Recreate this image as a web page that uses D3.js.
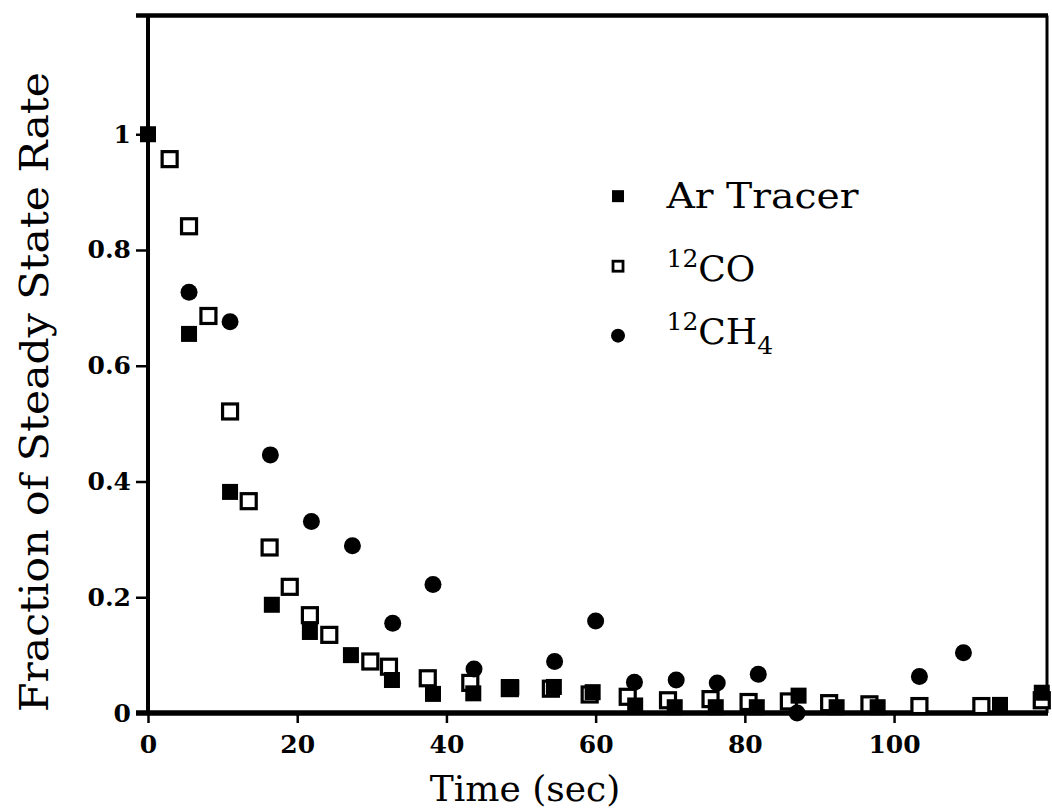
<!DOCTYPE html>
<html>
<head>
<meta charset="utf-8">
<script src="https://cdn.jsdelivr.net/npm/d3@7"></script>
<style>
  body { margin: 0; background: #fff; }
  svg { display: block; }
  text { font-family: "DejaVu Serif", "Liberation Serif", serif; fill: #000; }
</style>
</head>
<body>
<svg id="chart"></svg>
<script>
// data (time in sec, fraction of steady state rate)
var arTime = [0, 5.5, 11, 16.6, 21.7, 27.2, 32.7, 38.2, 43.6, 48.7, 54.4, 59.6, 65.3, 70.6, 76.1, 81.6, 87.2, 92.3, 97.8, 114.2, 119.8];
var arRate = [1.0, 0.655, 0.382, 0.187, 0.140, 0.100, 0.057, 0.033, 0.034, 0.044, 0.045, 0.036, 0.013, 0.010, 0.010, 0.010, 0.030, 0.010, 0.010, 0.014, 0.035];

var coTime = [2.9, 5.5, 8.1, 11, 13.5, 16.3, 19, 21.7, 24.3, 29.8, 32.3, 37.5, 43.2, 48.5, 54.0, 59.2, 64.3, 69.7, 75.4, 80.5, 85.9, 91.3, 96.7, 103.4, 111.7, 119.8];
var coRate = [0.957, 0.841, 0.686, 0.521, 0.366, 0.286, 0.218, 0.169, 0.135, 0.089, 0.080, 0.060, 0.052, 0.043, 0.042, 0.032, 0.028, 0.022, 0.024, 0.019, 0.020, 0.017, 0.015, 0.012, 0.012, 0.022];

var chTime = [5.5, 11, 16.4, 21.9, 27.4, 32.8, 38.2, 43.7, 54.5, 60, 65.2, 70.8, 76.3, 81.8, 87.0, 103.4, 109.3];
var chRate = [0.727, 0.676, 0.446, 0.331, 0.289, 0.155, 0.222, 0.076, 0.089, 0.159, 0.053, 0.057, 0.052, 0.067, 0.0, 0.063, 0.104];

var xTicks = [0, 20, 40, 60, 80, 100];
var yTicks = [0, 0.2, 0.4, 0.6, 0.8, 1];

var width = 1052, height = 811;
var svg = d3.select('#chart').attr('width', width).attr('height', height);

var x = d3.scaleLinear().domain([0, 120.5]).range([148, 1047]);
var y = d3.scaleLinear().domain([0, 1.205]).range([713, 15.6]);

function pts(t, r) {
  return t.map(function(d, i) { return {t: d, r: r[i]}; });
}

// frame
var frame = svg.append('g').attr('stroke', '#000').attr('fill', 'none');
frame.append('line').attr('x1', 136).attr('x2', x.range()[1] + 1).attr('y1', y.range()[1]).attr('y2', y.range()[1]).attr('stroke-width', 4.5);
frame.append('line').attr('x1', x.range()[1]).attr('x2', x.range()[1]).attr('y1', y.range()[1]).attr('y2', y(0)).attr('stroke-width', 3);

// axes
var tickFont = function(sel) {
  sel.style('font-size', '25px').style('font-weight', 'bold').style('font-family', '"DejaVu Serif", serif');
};

var yAxis = svg.append('g')
  .attr('transform', 'translate(' + x(0) + ',0)')
  .call(d3.axisLeft(y).tickValues(yTicks).tickSize(12).tickPadding(5)
    .tickFormat(function(d) { return d === 0 ? '0' : d === 1 ? '1' : d3.format('.1f')(d); }));
yAxis.select('.domain').attr('stroke-width', 4).attr('d', 'M0,' + y.range()[1] + 'V' + y(0));
yAxis.selectAll('.tick line').attr('stroke-width', 2.5);
yAxis.selectAll('.tick text').call(tickFont);

var xAxis = svg.append('g')
  .attr('transform', 'translate(0,' + y(0) + ')')
  .call(d3.axisBottom(x).tickValues(xTicks).tickSize(10).tickPadding(12));
xAxis.select('.domain').attr('stroke-width', 5.5).attr('d', 'M' + 136 + ',0H' + (x.range()[1] + 1));
xAxis.selectAll('.tick line').attr('stroke-width', 2.5);
xAxis.selectAll('.tick text').call(tickFont);

// axis titles
svg.append('text')
  .attr('x', 525).attr('y', 801)
  .attr('text-anchor', 'middle')
  .style('font-size', '36px')
  .text('Time (sec)');

svg.append('text')
  .attr('transform', 'translate(48,' + 392 + ') rotate(-90)')
  .attr('text-anchor', 'middle')
  .attr('textLength', 640).attr('lengthAdjust', 'spacingAndGlyphs')
  .style('font-size', '40px')
  .text('Fraction of Steady State Rate');

// markers
var sq = 16, osq = 15, cr = 8.5;

svg.append('g').selectAll('rect')
  .data(pts(coTime, coRate)).enter()
  .append('rect')
  .attr('x', function(d) { return x(d.t) - osq / 2; })
  .attr('y', function(d) { return y(d.r) - osq / 2; })
  .attr('width', osq).attr('height', osq)
  .attr('fill', '#fff').attr('stroke', '#000').attr('stroke-width', 3.2);

svg.append('g').selectAll('rect')
  .data(pts(arTime, arRate)).enter()
  .append('rect')
  .attr('x', function(d) { return x(d.t) - sq / 2; })
  .attr('y', function(d) { return y(d.r) - sq / 2; })
  .attr('width', sq).attr('height', sq)
  .attr('fill', '#000');

svg.append('g').selectAll('circle')
  .data(pts(chTime, chRate)).enter()
  .append('circle')
  .attr('cx', function(d) { return x(d.t); })
  .attr('cy', function(d) { return y(d.r); })
  .attr('r', cr)
  .attr('fill', '#000');

// legend
var legX = x(63), legTX = x(69.5);
var rowAr = 0.893, rowCo = 0.772, rowCh = 0.652;
var legend = svg.append('g');
legend.append('rect').attr('x', legX - 6).attr('y', y(rowAr) - 6).attr('width', 12).attr('height', 12).attr('fill', '#000');
legend.append('rect').attr('x', legX - 5).attr('y', y(rowCo) - 5).attr('width', 10).attr('height', 10)
  .attr('fill', '#fff').attr('stroke', '#000').attr('stroke-width', 2.8);
legend.append('circle').attr('cx', legX).attr('cy', y(rowCh)).attr('r', 7).attr('fill', '#000');

legend.append('text').attr('x', legTX).attr('y', y(rowAr) + 12)
  .attr('textLength', 192).attr('lengthAdjust', 'spacingAndGlyphs')
  .style('font-size', '36px').text('Ar Tracer');

var co = legend.append('text').attr('x', legTX).attr('y', y(rowCo) + 15).style('font-size', '36px');
co.append('tspan').attr('dy', -14).style('font-size', '25px').text('12');
co.append('tspan').attr('dy', 14).text('CO');

var ch = legend.append('text').attr('x', legTX).attr('y', y(rowCh) + 8).style('font-size', '36px');
ch.append('tspan').attr('dy', -14).style('font-size', '25px').text('12');
ch.append('tspan').attr('dy', 14).text('CH');
ch.append('tspan').attr('dy', 10).style('font-size', '25px').text('4');
</script>
</body>
</html>
